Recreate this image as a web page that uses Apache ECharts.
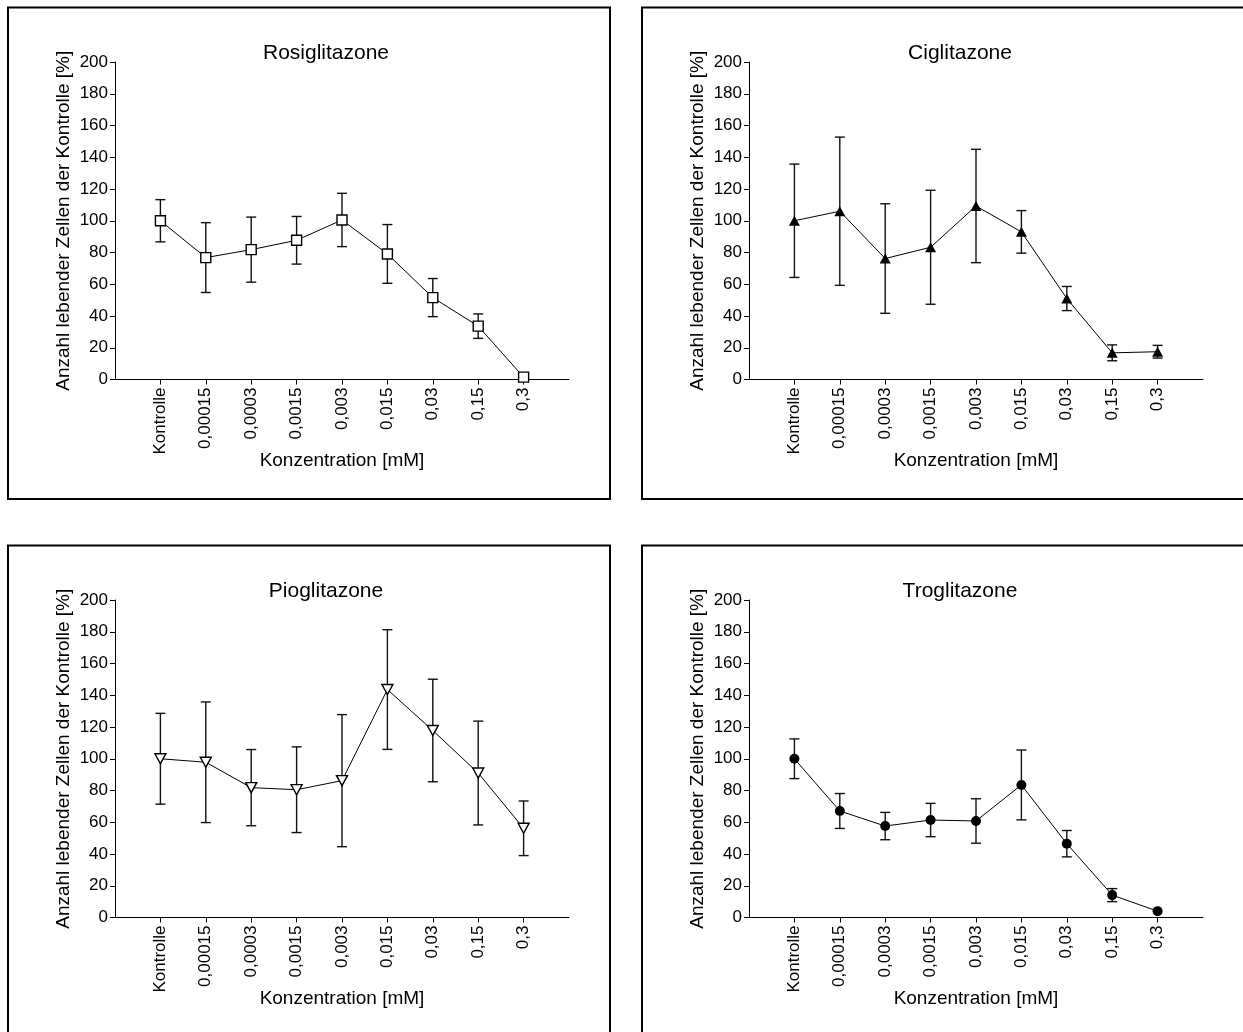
<!DOCTYPE html>
<html>
<head>
<meta charset="utf-8">
<script src="https://cdn.jsdelivr.net/npm/echarts@6/dist/echarts.min.js"></script>
<style>
  html, body { margin: 0; padding: 0; background: #fff; }
  #chart { width: 1243px; height: 1032px; }
</style>
</head>
<body>
<div id="chart"></div>
<script>
// ---- data ----
const categories = ['Kontrolle', '0,00015', '0,0003', '0,0015', '0,003', '0,015', '0,03', '0,15', '0,3'];

const rosiMean = [100, 76.8, 81.8, 87.7, 100.5, 79.1, 51.6, 33.6, 1.5];
const rosiSD   = [13.3, 22, 20.5, 15, 16.8, 18.5, 12, 7.7, 0];

const ciglMean = [100, 106, 76.2, 83.3, 109.3, 93, 51, 16.8, 17.5];
const ciglSD   = [35.7, 46.7, 34.5, 35.9, 35.7, 13.4, 7.6, 5, 4];

const pioMean  = [100, 97.8, 81.8, 80.5, 86.2, 143.6, 117.8, 91, 56.2];
const pioSD    = [28.6, 38, 24, 27, 41.6, 37.7, 32.3, 32.7, 17.2];

const trogMean = [100, 67.1, 57.6, 61.4, 60.8, 83.5, 46.5, 14.1, 4];
const trogSD   = [12.5, 11, 8.6, 10.5, 14, 22, 8.3, 4.1, 0];

const titles = ['Rosiglitazone', 'Ciglitazone', 'Pioglitazone', 'Troglitazone'];
const yName = 'Anzahl lebender Zellen der Kontrolle [%]';
const xName = 'Konzentration [mM]';
const yMin = 0, yMax = 200, yStep = 20;

// ---- layout ----
const FONT = '"Liberation Sans", Arial, sans-serif';
const panels = [
  { mean: rosiMean, sd: rosiSD, left: 115, top: 62, frameX: 8, frameY: 7.5,
    symbol: 'rect', size: 10, rotate: 0, fill: '#fff' },
  { mean: ciglMean, sd: ciglSD, left: 749, top: 62, frameX: 642, frameY: 7.5,
    symbol: 'triangle', size: [11, 10], rotate: 0, fill: '#000' },
  { mean: pioMean, sd: pioSD, left: 115, top: 600, frameX: 8, frameY: 545.5,
    symbol: 'triangle', size: [11, 10], rotate: 180, fill: '#fff' },
  { mean: trogMean, sd: trogSD, left: 749, top: 600, frameX: 642, frameY: 545.5,
    symbol: 'circle', size: 10, rotate: 0, fill: '#000' }
];
const GW = 454, GH = 317.5;

const padCats = ['__a'].concat(categories).concat(['__b']);
const showInner = (i) => i > 0 && i < padCats.length - 1;

const option = {
  animation: false,
  backgroundColor: '#fff',
  textStyle: { fontFamily: FONT },
  title: [], grid: [], xAxis: [], yAxis: [], series: [],
  graphic: []
};

panels.forEach((p, k) => {
  option.grid.push({ left: p.left, top: p.top, width: GW, height: GH, containLabel: false });
  option.title.push({
    text: titles[k], left: p.left + 211, top: p.top - 19, textAlign: 'center', padding: 0,
    textStyle: { fontFamily: FONT, fontSize: 21, fontWeight: 'normal', color: '#000' }
  });
  option.xAxis.push({
    type: 'category', gridIndex: k, data: padCats, boundaryGap: false,
    name: xName, nameLocation: 'middle', nameGap: 72, nameMoveOverlap: false,
    nameTextStyle: { fontFamily: FONT, fontSize: 19, color: '#000' },
    axisLine: { show: true, lineStyle: { color: '#000', width: 1 } },
    axisTick: { show: true, interval: (i) => showInner(i), length: 5, lineStyle: { color: '#000', width: 1 } },
    axisLabel: { interval: (i) => showInner(i), rotate: 90, margin: 8, fontSize: 17, fontFamily: FONT, color: '#000' },
    splitLine: { show: false }
  });
  option.yAxis.push({
    type: 'value', gridIndex: k, min: yMin, max: yMax, interval: yStep,
    name: yName, nameLocation: 'middle', nameGap: 42, nameMoveOverlap: false,
    nameTextStyle: { fontFamily: FONT, fontSize: 19, color: '#000' },
    axisLine: { show: true, lineStyle: { color: '#000', width: 1 } },
    axisTick: { show: true, length: 5, lineStyle: { color: '#000', width: 1 } },
    axisLabel: { margin: 7, fontSize: 17, fontFamily: FONT, color: '#000' },
    splitLine: { show: false }
  });
  const errData = categories.map((c, i) => [c, p.mean[i], p.sd[i]]);
  option.series.push({
    type: 'custom', xAxisIndex: k, yAxisIndex: k, z: 1,
    data: errData,
    renderItem: function (params, api) {
      const x = api.value(0);
      const m = api.value(1), s = api.value(2);
      if (!s) return null;
      const top = api.coord([x, m + s]);
      const bot = api.coord([x, m - s]);
      const hw = 5;
      const style = { stroke: '#111', lineWidth: 1.4, fill: null };
      return {
        type: 'group',
        children: [
          { type: 'line', shape: { x1: top[0], y1: top[1], x2: bot[0], y2: bot[1] }, style: style },
          { type: 'line', shape: { x1: top[0] - hw, y1: top[1], x2: top[0] + hw, y2: top[1] }, style: style },
          { type: 'line', shape: { x1: bot[0] - hw, y1: bot[1], x2: bot[0] + hw, y2: bot[1] }, style: style }
        ]
      };
    }
  });
  option.series.push({
    type: 'line', xAxisIndex: k, yAxisIndex: k, z: 3,
    data: categories.map((c, i) => [c, p.mean[i]]),
    symbol: p.symbol, symbolSize: p.size, symbolRotate: p.rotate, showSymbol: true,
    lineStyle: { color: '#000', width: 1 },
    itemStyle: { color: p.fill, borderColor: '#000', borderWidth: p.fill === '#fff' ? 1.4 : 0 }
  });
  option.graphic.push({
    type: 'rect', silent: true, z: -1,
    shape: { x: p.frameX, y: p.frameY, width: 602, height: 491.5 },
    style: { fill: null, stroke: '#000', lineWidth: 2 }
  });
});

const chart = echarts.init(document.getElementById('chart'), null, { renderer: 'canvas' });
chart.setOption(option);
</script>
</body>
</html>
